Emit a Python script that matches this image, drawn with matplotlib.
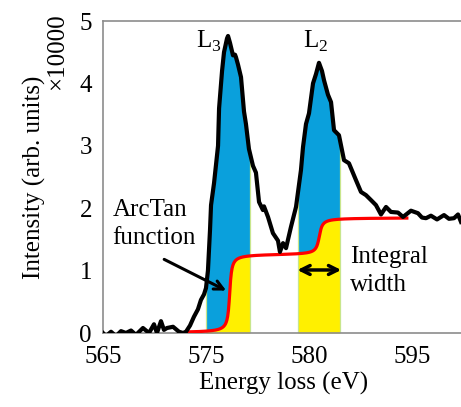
import numpy as np
import matplotlib
matplotlib.use('Agg')
import matplotlib.pyplot as plt

plt.rcParams['font.family'] = ['Liberation Serif', 'DejaVu Serif']
plt.rcParams['mathtext.fontset'] = 'custom'
plt.rcParams['mathtext.rm'] = 'Liberation Serif'

# EELS spectrum, intensity in units of 10000
energy = [565.0, 565.29, 565.78, 566.26, 566.75, 567.23, 567.72, 568.20, 568.88, 569.47,
          569.95, 570.24, 570.63, 570.92, 571.21, 571.80, 572.38, 572.77, 573.06, 573.45,
          573.83, 574.22, 574.51, 574.81, 575.00, 575.19, 575.39, 575.49, 575.78, 576.17,
          576.27, 576.56, 576.75, 577.04, 577.14, 577.33, 577.62, 577.82, 577.91, 578.11,
          578.40, 578.69, 578.88, 579.17, 579.56, 579.85, 580.15, 580.53, 580.63, 581.02,
          581.50, 581.99, 582.18, 582.48, 582.77, 583.25, 583.74, 584.22, 584.42, 584.71,
          585.00, 585.39, 585.68, 585.97, 586.26, 586.46, 586.84, 587.14, 587.43, 587.91,
          588.40, 588.88, 589.56, 590.05, 590.53, 591.02, 591.50, 591.99, 592.48, 592.96,
          593.64, 594.13, 594.90, 595.58, 595.97, 596.36, 596.84, 597.43, 598.11, 598.59,
          599.08, 599.47, 599.76]
intensity = [0.0, -0.05, 0.02, -0.05, 0.03, 0.0, 0.04, -0.03, 0.08, 0.0,
             0.14, 0.0, 0.19, 0.05, 0.08, 0.10, 0.02, 0.0, 0.02, 0.12,
             0.26, 0.38, 0.53, 0.62, 0.72, 1.00, 1.65, 2.05, 2.40, 3.00,
             3.60, 4.20, 4.50, 4.72, 4.76, 4.65, 4.45, 4.46, 4.42, 4.30,
             4.10, 3.55, 3.35, 2.95, 2.68, 2.57, 2.10, 1.97, 2.03, 1.86,
             1.60, 1.48, 1.30, 1.44, 1.36, 1.70, 2.02, 2.61, 2.98, 3.35,
             3.52, 4.00, 4.15, 4.33, 4.20, 4.05, 3.82, 3.70, 3.25, 3.17,
             2.77, 2.72, 2.45, 2.26, 2.21, 2.13, 2.05, 1.90, 2.02, 1.94,
             1.93, 1.86, 1.96, 1.92, 1.85, 1.84, 1.88, 1.82, 1.89, 1.83,
             1.84, 1.90, 1.78]

# two-step arctan background
step_start, step_end = 573.06, 594.5
step_centers = [577.3, 586.0]
step_heights = [1.26, 0.59]
step_widths = [0.15, 0.22]

# integration windows for L3 and L2
windows = [(575.0, 579.27), (583.93, 588.0)]

xtick_pos = [565, 575, 585, 595]
xtick_labels = ['565', '575', '580', '595']
yticks = [0, 1, 2, 3, 4, 5]

blue = '#0aa0dc'
yellow = '#fff000'
edge = '#c8e68c'
fs = 18


def arctan_bg(x):
    y = np.zeros_like(x)
    for c, h, w in zip(step_centers, step_heights, step_widths):
        y += h * (0.5 + np.arctan((x - c) / w) / np.pi)
    return y


fig = plt.figure(figsize=(4.61, 4.07), dpi=100)
ax = fig.add_axes([0.2234, 0.1818, 0.782, 0.7666])

for lo, hi in windows:
    xx = np.linspace(lo, hi, 300)
    cur = np.interp(xx, energy, intensity)
    bg = arctan_bg(xx)
    ax.fill_between(xx, bg, cur, color=blue, lw=0)
    ax.fill_between(xx, 0, bg, color=yellow, lw=0)
    for xe in (lo, hi):
        ax.plot([xe, xe], [0, np.interp(xe, energy, intensity)], color=edge, lw=0.9)

xb = np.linspace(step_start, step_end, 600)
ax.plot(xb, arctan_bg(xb), color='#ff0000', lw=2.3, zorder=3)
ax.plot(energy, intensity, color='black', lw=3.0, zorder=4,
        solid_joinstyle='round')

ax.set_xlim(565, 600)
ax.set_ylim(0, 5)
ax.set_xticks(xtick_pos)
ax.set_xticklabels(xtick_labels)
ax.set_yticks(yticks)
ax.tick_params(length=0, labelsize=fs)
ax.tick_params(axis='x', pad=9)
ax.tick_params(axis='y', pad=8)
for s in ('left', 'top', 'bottom'):
    ax.spines[s].set_color('#8c8c8c')
    ax.spines[s].set_linewidth(1.2)
ax.spines['right'].set_visible(False)

ax.set_xlabel('Energy loss (eV)', fontsize=fs, labelpad=3)
ax.set_ylabel('Intensity (arb. units)', fontsize=fs, labelpad=24)
fig.text(0.124, 0.872, '×10000', rotation=90, fontsize=fs,
         ha='center', va='center')

ax.text(575.3, 4.68, r'L$_3$', fontsize=fs, ha='center', va='center')
ax.text(585.6, 4.68, r'L$_2$', fontsize=fs, ha='center', va='center')
ax.text(565.9, 1.75, 'ArcTan\nfunction', fontsize=fs, ha='left', va='center',
        linespacing=1.35)
ax.annotate('', xy=(577.2, 0.66), xytext=(570.7, 1.2),
            arrowprops=dict(arrowstyle='->', color='black', lw=2.2,
                            mutation_scale=16))
ax.annotate('', xy=(583.6, 1.01), xytext=(588.4, 1.01),
            arrowprops=dict(arrowstyle='<->', color='black', lw=2.5,
                            mutation_scale=16))
ax.text(589.0, 0.99, 'Integral\nwidth', fontsize=fs, ha='left', va='center',
        linespacing=1.35)

fig.savefig('out.png', dpi=100)
